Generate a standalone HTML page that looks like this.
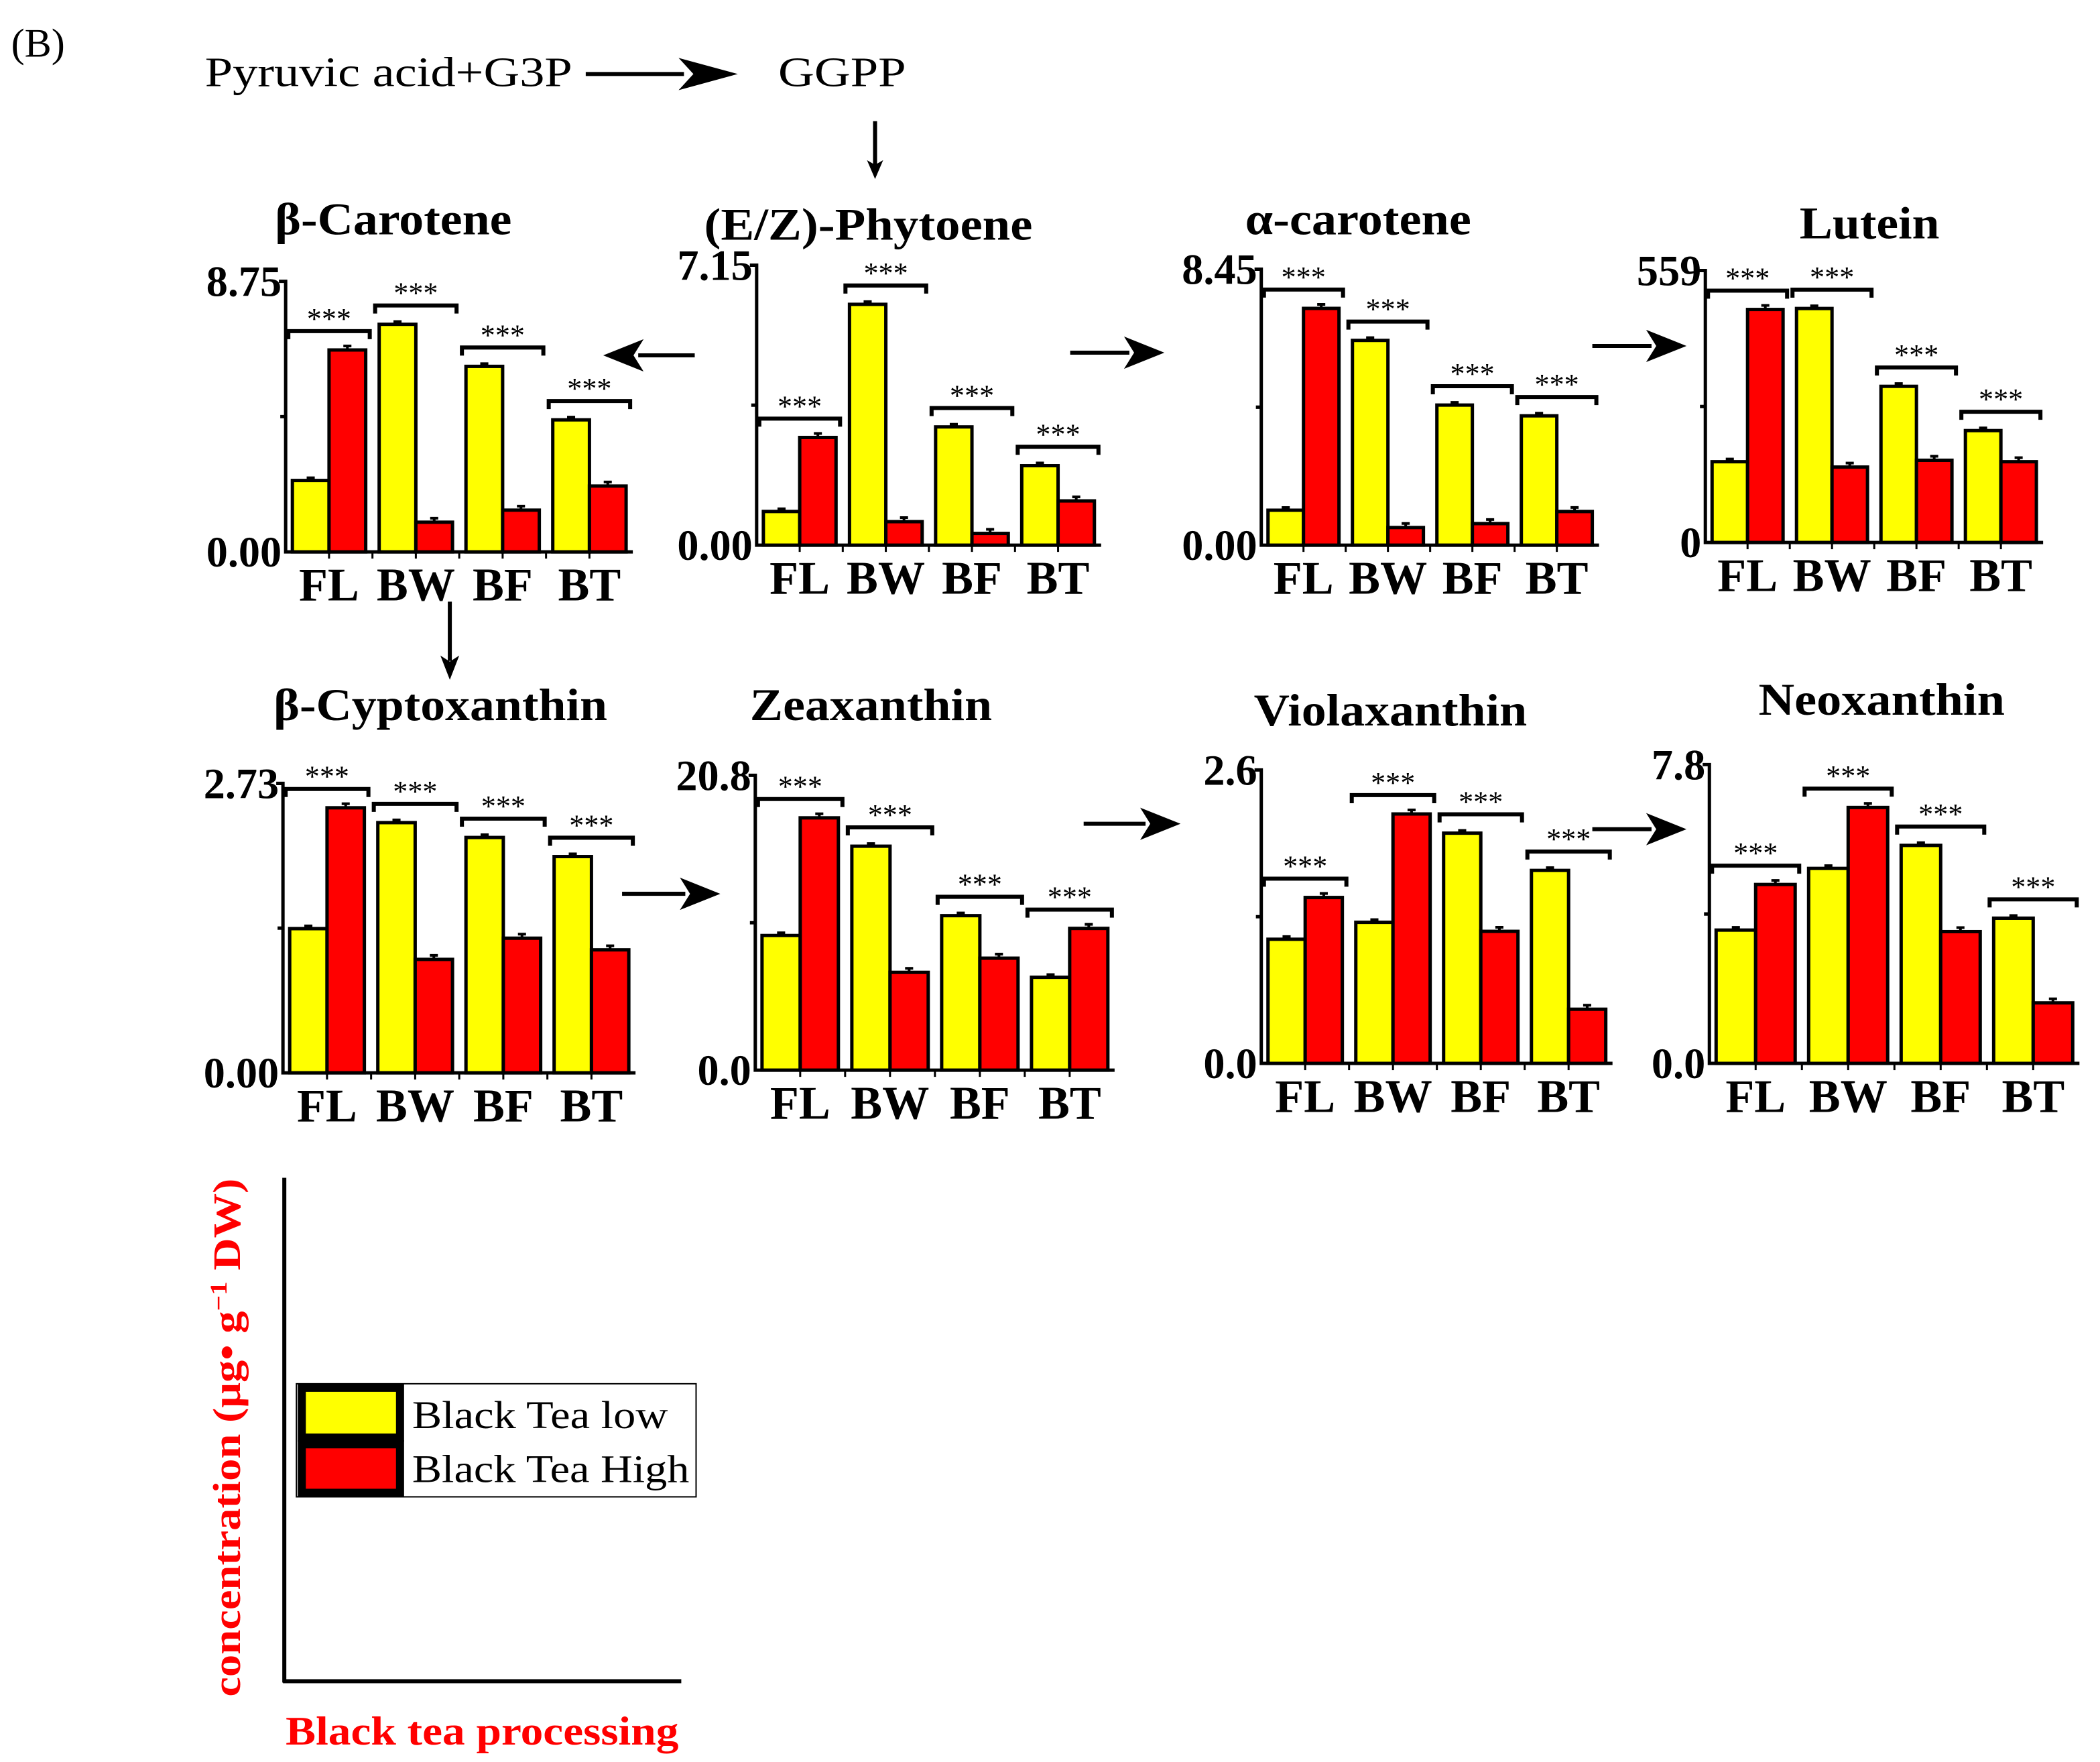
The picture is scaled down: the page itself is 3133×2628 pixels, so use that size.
<!DOCTYPE html>
<html><head><meta charset="utf-8"><style>
html,body{margin:0;padding:0;background:#fff}
svg{display:block}
text{font-family:"Liberation Serif",serif}
</style></head><body>
<svg id="fig" width="3133" height="2628" viewBox="0 0 1560 1309" xmlns="http://www.w3.org/2000/svg">
<text x="8" y="42" font-size="30">(B)</text>
<text x="152" y="64" font-size="31" textLength="273" lengthAdjust="spacingAndGlyphs">Pyruvic acid+G3P</text>
<text x="578" y="64" font-size="31" textLength="95" lengthAdjust="spacingAndGlyphs">GGPP</text>
<g id="arrows"></g>
<g id="panels"></g>
<g>
<line x1="211" y1="875" x2="211" y2="1250" stroke="#000" stroke-width="3"/>
<line x1="210" y1="1249" x2="506" y2="1249" stroke="#000" stroke-width="3"/>
<g>
<rect x="220" y="1028" width="297" height="84" fill="#fff" stroke="#000" stroke-width="1"/>
<rect x="224" y="1031" width="73" height="37" fill="#ffff00" stroke="#000" stroke-width="6"/>
<rect x="224" y="1073" width="73" height="36" fill="#ff0000" stroke="#000" stroke-width="6"/>
<text x="306" y="1061" font-size="29" textLength="190" lengthAdjust="spacingAndGlyphs">Black Tea low</text>
<text x="306" y="1101" font-size="29" textLength="206" lengthAdjust="spacingAndGlyphs">Black Tea High</text>
</g>
<text transform="translate(178,1068) rotate(-90)" text-anchor="middle" font-size="29" font-weight="bold" fill="#ff0000" textLength="385" lengthAdjust="spacingAndGlyphs">concentration (μg• g<tspan dy="-10" font-size="18">−1</tspan><tspan dy="10"> DW)</tspan></text>
<text x="358" y="1296" text-anchor="middle" font-size="30" font-weight="bold" fill="#ff0000" textLength="292" lengthAdjust="spacingAndGlyphs">Black tea processing</text>
</g>
</svg>
<script>
const categories = ["FL","BW","BF","BT"];
const titles = ["β-Carotene","(E/Z)-Phytoene","α-carotene","Lutein","β-Cyptoxanthin","Zeaxanthin","Violaxanthin","Neoxanthin"];
const maxLabels = ["8.75","7.15","8.45","559","2.73","20.8","2.6","7.8"];
const minLabels = ["0.00","0.00","0.00","0","0.00","0.0","0.0","0.0"];
const maxValues = [8.75,7.15,8.45,559,2.73,20.8,2.6,7.8];
const lowValues = [
 [2.31,7.36,6.0,4.27],
 [0.86,6.15,3.02,2.03],
 [1.07,6.27,4.29,3.96],
 [166,481,321,230],
 [1.36,2.36,2.22,2.04],
 [9.5,15.8,10.9,6.55],
 [1.10,1.25,2.04,1.71],
 [3.48,5.09,5.69,3.79]
];
const highValues = [
 [6.53,0.96,1.35,2.13],
 [2.75,0.6,0.3,1.13],
 [7.25,0.54,0.66,1.03],
 [479,155,169,166],
 [2.50,1.07,1.27,1.16],
 [17.8,6.9,7.9,10.0],
 [1.47,2.21,1.17,0.48],
 [4.67,6.68,3.44,1.58]
];
// layout (not data)
const layout = [
 {x0:212,top:209,bot:410,x1:470,tx:292,ty:174,tw:176},
 {x0:562,top:197,bot:405,x1:818,tx:645,ty:178,tw:244},
 {x0:937,top:200,bot:405,x1:1188,tx:1009,ty:174,tw:168},
 {x0:1267,top:201,bot:403,x1:1518,tx:1389,ty:177,tw:104},
 {x0:210,top:582,bot:797,x1:472,tx:327,ty:535,tw:248},
 {x0:561,top:576,bot:795,x1:828,tx:647,ty:535,tw:180},
 {x0:937,top:572,bot:790,x1:1198,tx:1033,ty:539,tw:203},
 {x0:1270,top:568,bot:790,x1:1545,tx:1398,ty:531,tw:183}
];
const NS="http://www.w3.org/2000/svg";
function mk(tag,attrs,parent){const e=document.createElementNS(NS,tag);for(const k in attrs)e.setAttribute(k,attrs[k]);parent.appendChild(e);return e;}
const panels=document.getElementById('panels');
layout.forEach((L,p)=>{
 const g=mk('g',{},panels);
 
 
 const yS=v=>L.bot-(v/maxValues[p])*(L.bot-L.top);
 const gw=(L.x1-L.x0)/categories.length;
 const t=mk('text',{x:L.tx,y:L.ty,'text-anchor':'middle','font-size':34,'font-weight':'bold',textLength:L.tw,lengthAdjust:'spacingAndGlyphs'},g);
 t.textContent=titles[p];
 
 
 const ax=mk('path',{d:`M${L.x0-5},${L.top} H${L.x0} V${L.bot} H${L.x1} M${L.x0-4},${(L.top+L.bot)/2} H${L.x0}`,stroke:'#000','stroke-width':2.5,fill:'none'},g);
 
 
 const ml=mk('text',{x:L.x0-3,y:L.top+11,'text-anchor':'end','font-size':32,'font-weight':'bold'},g);
 ml.textContent=maxLabels[p];
 
 
 const nl=mk('text',{x:L.x0-3,y:L.bot+11,'text-anchor':'end','font-size':32,'font-weight':'bold'},g);
 nl.textContent=minLabels[p];
 
 
 categories.forEach((c,i)=>{
  const gx=L.x0+gw*i;
  const bw=(gw-10)/2;
  const bx=gx+5;
  if(i>0)mk('line',{x1:gx,y1:L.bot,x2:gx,y2:L.bot+5,stroke:'#000','stroke-width':1.5},g);
  mk('line',{x1:gx+gw/2,y1:L.bot,x2:gx+gw/2,y2:L.bot+5,stroke:'#000','stroke-width':1.5},g);
  const yl=yS(lowValues[p][i]),yh=yS(highValues[p][i]);
  const r1=mk('rect',{x:bx,y:yl,width:bw,height:L.bot-yl,fill:'#ffff00',stroke:'#000','stroke-width':2.5},g);
  
  
  const r2=mk('rect',{x:bx+bw,y:yh,width:bw,height:L.bot-yh,fill:'#ff0000',stroke:'#000','stroke-width':2.5},g);
  
  
  mk('path',{d:`M${bx+bw/2-3},${yl-2}h6M${bx+bw/2},${yl-2}v2M${bx+1.5*bw-3},${yh-3}h6M${bx+1.5*bw},${yh-3}v3`,stroke:'#000','stroke-width':2},g);
  const by=Math.min(yl,yh)-14;
  const br=mk('path',{d:`M${gx+2},${by+6} V${by} H${gx+gw-2} V${by+6}`,stroke:'#000','stroke-width':3,fill:'none'},g);
  
  
  const st=mk('text',{x:gx+gw/2,y:by-2,'text-anchor':'middle','font-size':22},g);
  st.textContent='***';
  
  
  const cl=mk('text',{x:gx+gw/2,y:L.bot+36,'text-anchor':'middle','font-size':35,'font-weight':'bold'},g);
  cl.textContent=c;
  
  
 });
});
const arrowsG=document.getElementById('arrows');
const arrows=[[435,55,548,55,44,12],[650,90,650,133,14,6],[516,264,448,264,30,12],[795,262,865,262,30,12],[1183,257,1253,257,30,12],[334,447,334,505,18,7],[462,664,535,664,30,12],[805,612,877,612,30,12],[1183,616,1253,616,30,12]];
arrows.forEach(a=>{
 const [x1,y1,x2,y2,hl,hw]=a;
 const dx=x2-x1,dy=y2-y1,len=Math.hypot(dx,dy),ux=dx/len,uy=dy/len;
 const bx=x2-ux*hl,by=y2-uy*hl, nx=-uy,ny=ux;
 const ag=mk('g',{},arrowsG);
 
 
 mk('line',{x1:x1,y1:y1,x2:bx+ux*4,y2:by+uy*4,stroke:'#000','stroke-width':3},ag);
 const nb=hl*0.25;
 mk('polygon',{points:`${x2},${y2} ${bx+nx*hw},${by+ny*hw} ${bx+ux*nb},${by+uy*nb} ${bx-nx*hw},${by-ny*hw}`,fill:'#000'},ag);
});
</script>
</body></html>
